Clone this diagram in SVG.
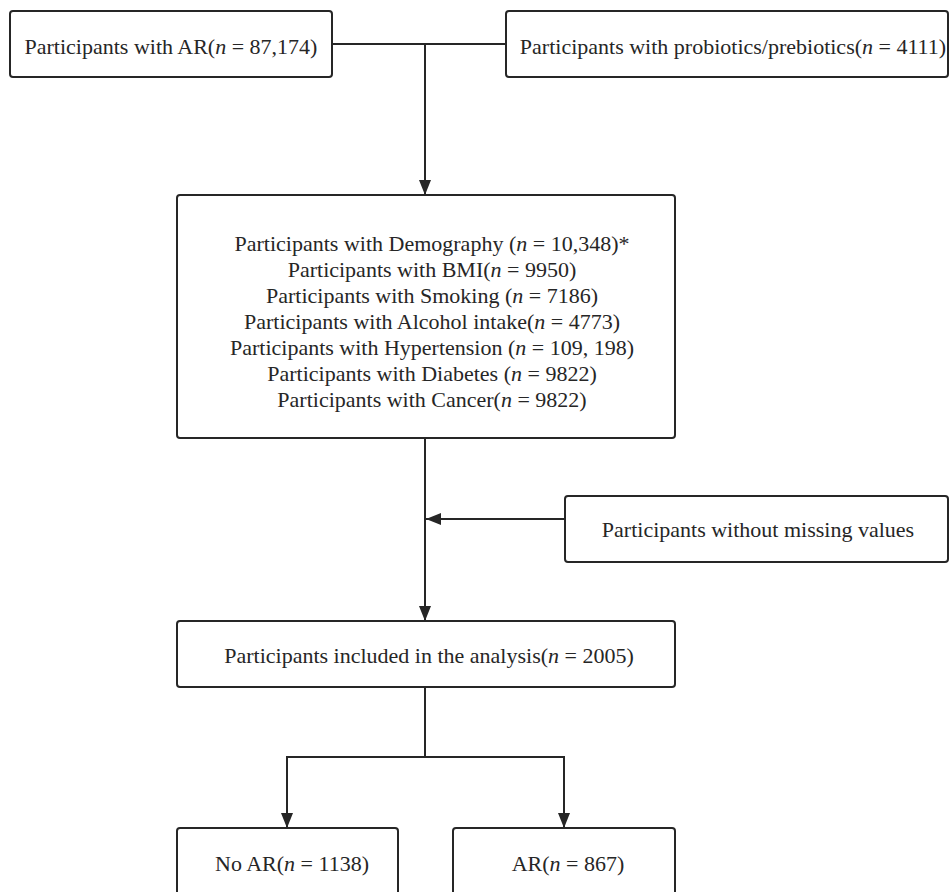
<svg xmlns="http://www.w3.org/2000/svg" width="950" height="892" viewBox="0 0 950 892">
<defs>
<style>
.box{fill:#fff;stroke:#262626;stroke-width:2}
.lbl{font-family:"Liberation Serif","Times New Roman",serif;font-size:22px;fill:#262626;text-anchor:middle}
.it{font-style:italic}
.con{fill:none;stroke:#262626;stroke-width:2}
</style>
<marker id="ah" markerUnits="userSpaceOnUse" markerWidth="16" markerHeight="12" refX="15" refY="6" orient="auto">
<path d="M0,0 L15,6 L0,12 z" fill="#262626"/>
</marker>
</defs>
<rect width="950" height="892" fill="#fff"/>
<g id="connectors">
<line class="con" x1="332" y1="44" x2="506" y2="44"/>
<line class="con" x1="425" y1="44" x2="425" y2="195" marker-end="url(#ah)"/>
<line class="con" x1="425" y1="438" x2="425" y2="621" marker-end="url(#ah)"/>
<line class="con" x1="565" y1="519" x2="426" y2="519" marker-end="url(#ah)"/>
<polyline class="con" points="425,687 425,757"/>
<polyline class="con" points="287,828 287,757 564,757 564,828"/>
<line class="con" x1="287" y1="757" x2="287" y2="828" marker-end="url(#ah)"/>
<line class="con" x1="564" y1="757" x2="564" y2="828" marker-end="url(#ah)"/>
</g>
<g id="n1">
<rect class="box" x="10" y="11" width="322" height="66" rx="3"/>
<text class="lbl" x="171" y="54">Participants with AR(<tspan class="it">n</tspan> = 87,174)</text>
</g>
<g id="n2">
<rect class="box" x="506" y="11" width="442" height="66" rx="3"/>
<text class="lbl" x="733" y="54">Participants with probiotics/prebiotics(<tspan class="it">n</tspan> = 4111)</text>
</g>
<g id="n3">
<rect class="box" x="177" y="195" width="498" height="243" rx="3"/>
<text class="lbl" x="432" y="251">Participants with Demography (<tspan class="it">n</tspan> = 10,348)*</text>
<text class="lbl" x="432" y="277">Participants with BMI(<tspan class="it">n</tspan> = 9950)</text>
<text class="lbl" x="432" y="303">Participants with Smoking (<tspan class="it">n</tspan> = 7186)</text>
<text class="lbl" x="432" y="329">Participants with Alcohol intake(<tspan class="it">n</tspan> = 4773)</text>
<text class="lbl" x="432" y="355">Participants with Hypertension (<tspan class="it">n</tspan> = 109, 198)</text>
<text class="lbl" x="432" y="381">Participants with Diabetes (<tspan class="it">n</tspan> = 9822)</text>
<text class="lbl" x="432" y="407">Participants with Cancer(<tspan class="it">n</tspan> = 9822)</text>
</g>
<g id="n4">
<rect class="box" x="565" y="496" width="383" height="66" rx="3"/>
<text class="lbl" x="758" y="537">Participants without missing values</text>
</g>
<g id="n5">
<rect class="box" x="177" y="621" width="498" height="66" rx="3"/>
<text class="lbl" x="429" y="663">Participants included in the analysis(<tspan class="it">n</tspan> = 2005)</text>
</g>
<g id="n6">
<rect class="box" x="177" y="828" width="221" height="80" rx="3"/>
<text class="lbl" x="292" y="871">No AR(<tspan class="it">n</tspan> = 1138)</text>
</g>
<g id="n7">
<rect class="box" x="453" y="828" width="222" height="80" rx="3"/>
<text class="lbl" x="568" y="871">AR(<tspan class="it">n</tspan> = 867)</text>
</g>
</svg>
